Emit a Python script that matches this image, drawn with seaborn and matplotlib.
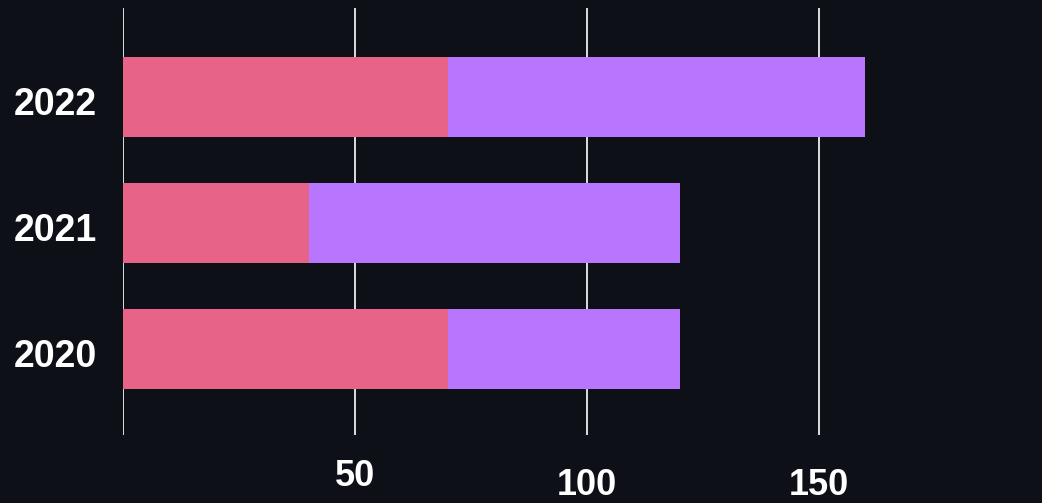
import matplotlib
matplotlib.use("Agg")
import matplotlib.pyplot as plt
import matplotlib.transforms as mtrans
import seaborn as sns
import pandas as pd

# data
years = ["2022", "2021", "2020"]
pink_values = [70, 40, 70]
purple_values = [90, 80, 50]
x_ticks = [0, 50, 100, 150]
x_tick_labels = ["", "50", "100", "150"]

bg = "#0d1117"
pink = "#e76388"
purple = "#b876ff"

totals = [p + q for p, q in zip(pink_values, purple_values)]
df = pd.DataFrame({"Year": years, "Pink": pink_values, "Total": totals})

sns.set_style("dark")
plt.rcParams["font.family"] = ["Liberation Sans", "DejaVu Sans"]

fig = plt.figure(figsize=(10.42, 5.03), dpi=100, facecolor=bg)
ax = fig.add_axes([0.118, 0.1352, 0.846, 0.849])
ax.set_facecolor(bg)

sns.barplot(data=df, x="Total", y="Year", orient="h", color=purple,
            width=0.635, saturation=1, ax=ax, zorder=2)
sns.barplot(data=df, x="Pink", y="Year", orient="h", color=pink,
            width=0.635, saturation=1, ax=ax, zorder=3)
for patch in ax.patches:
    patch.set_edgecolor("none")

ax.set_xlim(0, 190)
ax.set_ylim(2.683, -0.706)
ax.set_xticks(x_ticks)
ax.set_xticklabels(x_tick_labels)
ax.grid(axis="x", color="white", linewidth=1.2, zorder=1)
ax.grid(axis="y", visible=False)
ax.set_axisbelow(True)

ax.tick_params(axis="both", length=0, labelcolor="white", labelsize=27)
ax.tick_params(axis="y", pad=19)
shift = mtrans.ScaledTranslation(0, -4 / 100, fig.dpi_scale_trans)
for lab in ax.get_yticklabels():
    lab.set_fontweight("bold")
    lab.set_transform(lab.get_transform() + shift)
for lab in ax.get_xticklabels():
    lab.set_fontweight("bold")
    lab.set_fontsize(26)
for val, tick in zip(x_ticks, ax.xaxis.get_major_ticks()):
    tick.set_pad(17 if val == 50 else 24)

ax.set_xlabel("")
ax.set_ylabel("")
for s in ax.spines.values():
    s.set_visible(False)

fig.savefig("out.png", dpi=100, facecolor=bg)
